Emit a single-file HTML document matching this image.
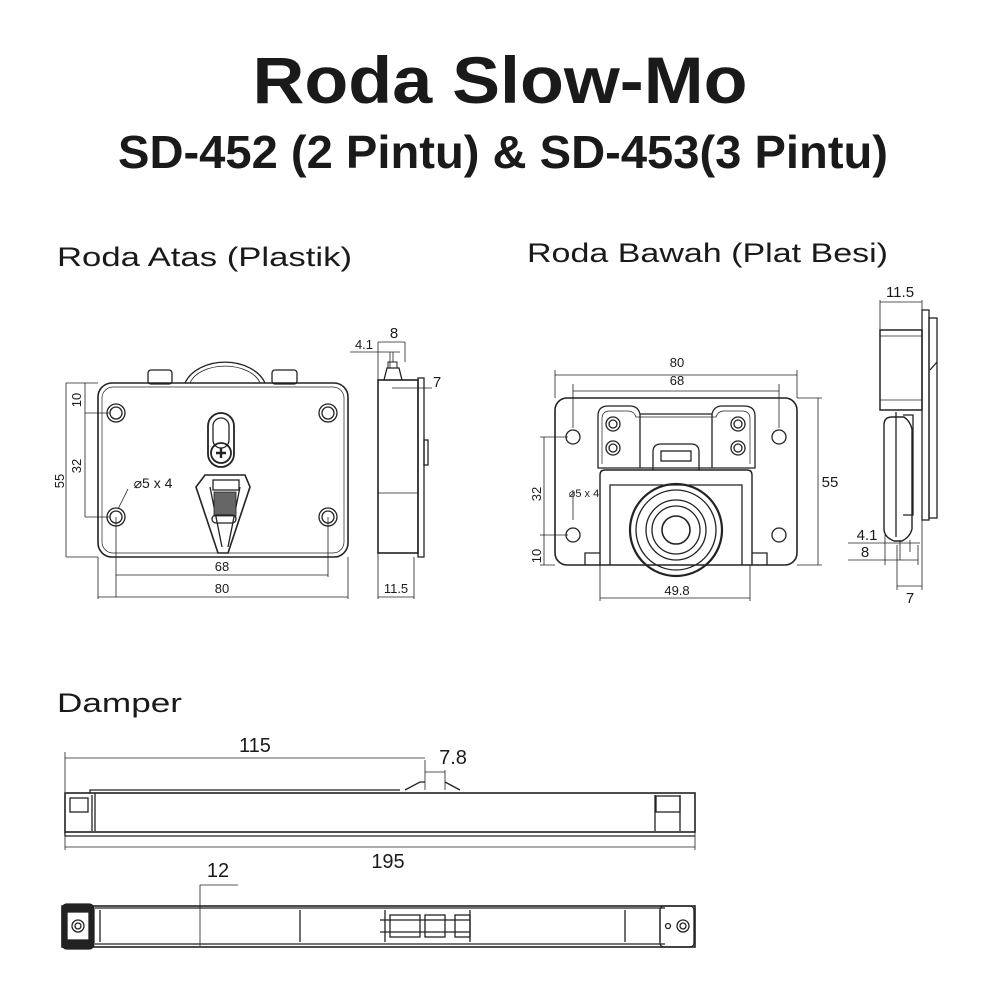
<!DOCTYPE html>
<html><head><meta charset="utf-8"><style>
html,body{margin:0;padding:0;background:#fff}
svg{display:block}
text{font-family:"Liberation Sans",sans-serif;fill:#1a1a1a}
</style></head><body>
<svg width="1000" height="1000" viewBox="0 0 1000 1000" xmlns="http://www.w3.org/2000/svg">
<rect width="1000" height="1000" fill="#fff"/>
<text x="500" y="103" font-size="66" font-weight="bold" text-anchor="middle" textLength="495" lengthAdjust="spacingAndGlyphs">Roda Slow-Mo</text>
<text x="503" y="168" font-size="46" font-weight="bold" text-anchor="middle" textLength="770" lengthAdjust="spacingAndGlyphs">SD-452 (2 Pintu) &amp; SD-453(3 Pintu)</text>
<text x="57" y="266" font-size="27" textLength="295" lengthAdjust="spacingAndGlyphs">Roda Atas (Plastik)</text>
<text x="527" y="262" font-size="27" textLength="361" lengthAdjust="spacingAndGlyphs">Roda Bawah (Plat Besi)</text>
<text x="57" y="712" font-size="27" textLength="125" lengthAdjust="spacingAndGlyphs">Damper</text>

<g fill="none" stroke="#222" stroke-width="1.3">
<!-- LEFT FRONT -->
<path d="M185 383 A42 30 0 0 1 265 383"/>
<path d="M190 383 A36 22 0 0 1 260 383" stroke-width="0.8"/>
<rect x="148" y="370" width="24" height="14" rx="3"/>
<rect x="272" y="370" width="25" height="14" rx="3"/>
<rect x="98" y="383" width="250" height="174" rx="14" stroke-width="1.6"/>
<rect x="102" y="387" width="242" height="166" rx="11" stroke-width="0.7"/>
<circle cx="116" cy="413" r="9"/><circle cx="116" cy="413" r="6"/>
<circle cx="328" cy="413" r="9"/><circle cx="328" cy="413" r="6"/>
<circle cx="116" cy="517" r="9"/><circle cx="116" cy="517" r="6"/>
<circle cx="328" cy="517" r="9"/><circle cx="328" cy="517" r="6"/>
<rect x="208" y="413" width="26" height="54" rx="13" stroke-width="1.8"/>
<rect x="213" y="418" width="16" height="30" rx="8"/>
<circle cx="221" cy="453" r="10" stroke-width="1.8"/>
<path d="M216 453h10M221 448v10" stroke-width="2.4"/>
<path d="M205 475h40l5 12-22 66h-10l-22-66z" stroke-width="1.6"/>
<path d="M210 487l12 60M240 487l-12 60"/>
<rect x="213" y="480" width="26" height="10"/>
<rect x="214" y="492" width="22" height="24" fill="#666" stroke-width="0.8"/>
<rect x="212" y="515" width="24" height="8" rx="4"/>
<g stroke-width="0.8">
<path d="M66 383h32M66 557h32M66 383v174M85 413h25M85 517h25M85 383v134"/>
<path d="M116 517v80M328 517v60M116 575h212M98 557v42M348 557v42M98 597h250"/>
<path d="M128 489l-10 20"/>
</g>
<!-- LEFT SIDE -->
<rect x="378" y="380" width="40" height="173" stroke-width="1.6"/>
<path d="M378 493h40" stroke-width="0.8"/>
<rect x="418" y="378" width="6" height="179"/>
<rect x="424" y="440" width="4" height="25"/>
<path d="M384 380l3-12h12l3 12"/>
<path d="M388 368v-6h9v6" stroke-width="1"/>
<g stroke-width="0.8">
<path d="M378 342v38M405 342v20M378 342h27M350 352h50M393 352v10M390 352v16"/>
<path d="M392 388h40M418 388v-8"/>
<path d="M378 553v46M414 557v42M378 597h36"/>
</g>

<!-- RIGHT FRONT -->
<rect x="555" y="398" width="242" height="167" rx="12" stroke-width="1.6"/>
<circle cx="573" cy="437" r="7"/><circle cx="779" cy="437" r="7"/>
<circle cx="573" cy="535" r="7"/><circle cx="779" cy="535" r="7"/>
<path d="M598 468v-52q0-10 10-10h22q8 0 10 8h72q2-8 10-8h22q11 0 11 10v52z"/>
<path d="M602 464v-45q0-8 8-8h18q6 0 8 6h80q2-6 8-6h18q8 0 8 8v45" stroke-width="0.7"/>
<circle cx="613" cy="424" r="7"/><circle cx="613" cy="424" r="4"/>
<circle cx="613" cy="448" r="7"/><circle cx="613" cy="448" r="4"/>
<circle cx="738" cy="424" r="7"/><circle cx="738" cy="424" r="4"/>
<circle cx="738" cy="448" r="7"/><circle cx="738" cy="448" r="4"/>
<path d="M640 414v54M712 414v54"/>
<path d="M653 470v-18q0-8 8-8h30q8 0 8 8v18"/>
<rect x="661" y="451" width="30" height="10"/>
<path d="M600 565v-90q0-5 5-5h142q5 0 5 5v90" stroke-width="1.4"/>
<path d="M610 565v-80h20M742 565v-80h-20M620 485h112"/>
<path d="M585 565v-12h15M767 565v-12h-15"/>
<circle cx="676" cy="530" r="46" stroke-width="2.2"/>
<circle cx="676" cy="530" r="40"/>
<circle cx="676" cy="530" r="30"/>
<circle cx="676" cy="530" r="24"/>
<circle cx="676" cy="530" r="14" stroke-width="1.6"/>
<g stroke-width="0.8">
<path d="M555 370v28M797 370v28M555 375h242M573 384v44M779 384v44M573 391h206"/>
<path d="M797 398h25M797 565h25M818 398v167"/>
<path d="M540 437h28M540 535h28M540 565h15M544 437v128"/>
<path d="M573 520v-30"/>
<path d="M600 565v36M750 565v36M600 598h150"/>
</g>
<!-- RIGHT SIDE -->
<rect x="880" y="330" width="42" height="80" stroke-width="1.5"/>
<path d="M880 336h42M880 400h42" stroke-width="0.8"/>
<rect x="922" y="310" width="7" height="210"/>
<rect x="929" y="318" width="8" height="200"/>
<path d="M884 425q0-8 8-8h12q6 4 8 12v100q-2 8-10 12h-8q-10-4-10-12z" stroke-width="1.4"/>
<path d="M896 412v125M903 415h10v100h-10"/>
<path d="M930 370l7-8"/>
<g stroke-width="0.8">
<path d="M880 300v30M922 300v10M880 302h42"/>
<path d="M848 543h72M885 535v30M900 540v20M910 540v12"/>
<path d="M848 560h70M918 545v20"/>
<path d="M897 545v45M922 520v70M897 586h25"/>
</g>

<!-- DAMPER TOP -->
<rect x="65" y="793" width="630" height="39" stroke-width="1.6"/>
<path d="M92 795v36M95 793v38M655 795v36M680 795v36M65 832v4h630"/>
<rect x="70" y="798" width="18" height="14"/>
<rect x="656" y="796" width="24" height="16"/>
<path d="M90 793v-3h280M370 790h30M405 790l15-8h5M445 782l15 8"/>
<g stroke-width="0.8">
<path d="M65 752v40M425 760v30M445 770v20M65 758h360M425 772h20"/>
<path d="M65 832v18M695 832v18M65 847h630"/>
</g>
<!-- DAMPER BOTTOM -->
<rect x="62" y="906" width="633" height="41" stroke-width="1.6"/>
<path d="M95 908h570M95 944h570M100 910v32M300 910v32M385 910v32M470 910v32M625 910v32M660 910v32"/>
<rect x="62" y="904" width="32" height="45" rx="5" fill="#222"/>
<rect x="67" y="912" width="22" height="28" fill="#fff"/>
<circle cx="78" cy="926" r="6"/><circle cx="78" cy="926" r="3"/>
<rect x="660" y="906" width="34" height="41" rx="4"/>
<circle cx="683" cy="926" r="6"/><circle cx="683" cy="926" r="3"/>
<circle cx="668" cy="926" r="2.5"/>
<rect x="390" y="915" width="30" height="22"/>
<rect x="425" y="915" width="20" height="22"/>
<rect x="455" y="915" width="15" height="22"/>
<path d="M380 920h90M380 932h90"/>
<path d="M200 946v-61h38" stroke-width="0.8"/>
</g>

<g font-size="13" text-anchor="middle">
<text x="222" y="571">68</text>
<text x="222" y="593">80</text>
<text x="153" y="488" font-size="14">⌀5 x 4</text>
<text transform="translate(81,400) rotate(-90)">10</text>
<text transform="translate(81,466) rotate(-90)">32</text>
<text transform="translate(64,481) rotate(-90)">55</text>
<text x="394" y="338" font-size="15">8</text>
<text x="364" y="349">4.1</text>
<text x="437" y="387" font-size="15">7</text>
<text x="396" y="593">11.5</text>
<text x="677" y="367">80</text>
<text x="677" y="385">68</text>
<text x="830" y="487" font-size="15">55</text>
<text x="584" y="497" font-size="11">⌀5 x 4</text>
<text transform="translate(541,494) rotate(-90)">32</text>
<text transform="translate(541,556) rotate(-90)">10</text>
<text x="677" y="595">49.8</text>
<text x="900" y="297" font-size="15">11.5</text>
<text x="867" y="540" font-size="15">4.1</text>
<text x="865" y="557" font-size="15">8</text>
<text x="910" y="603" font-size="15">7</text>
<text x="255" y="752" font-size="20">115</text>
<text x="453" y="764" font-size="20">7.8</text>
<text x="388" y="868" font-size="20">195</text>
<text x="218" y="877" font-size="20">12</text>
</g>
</svg>
</body></html>
